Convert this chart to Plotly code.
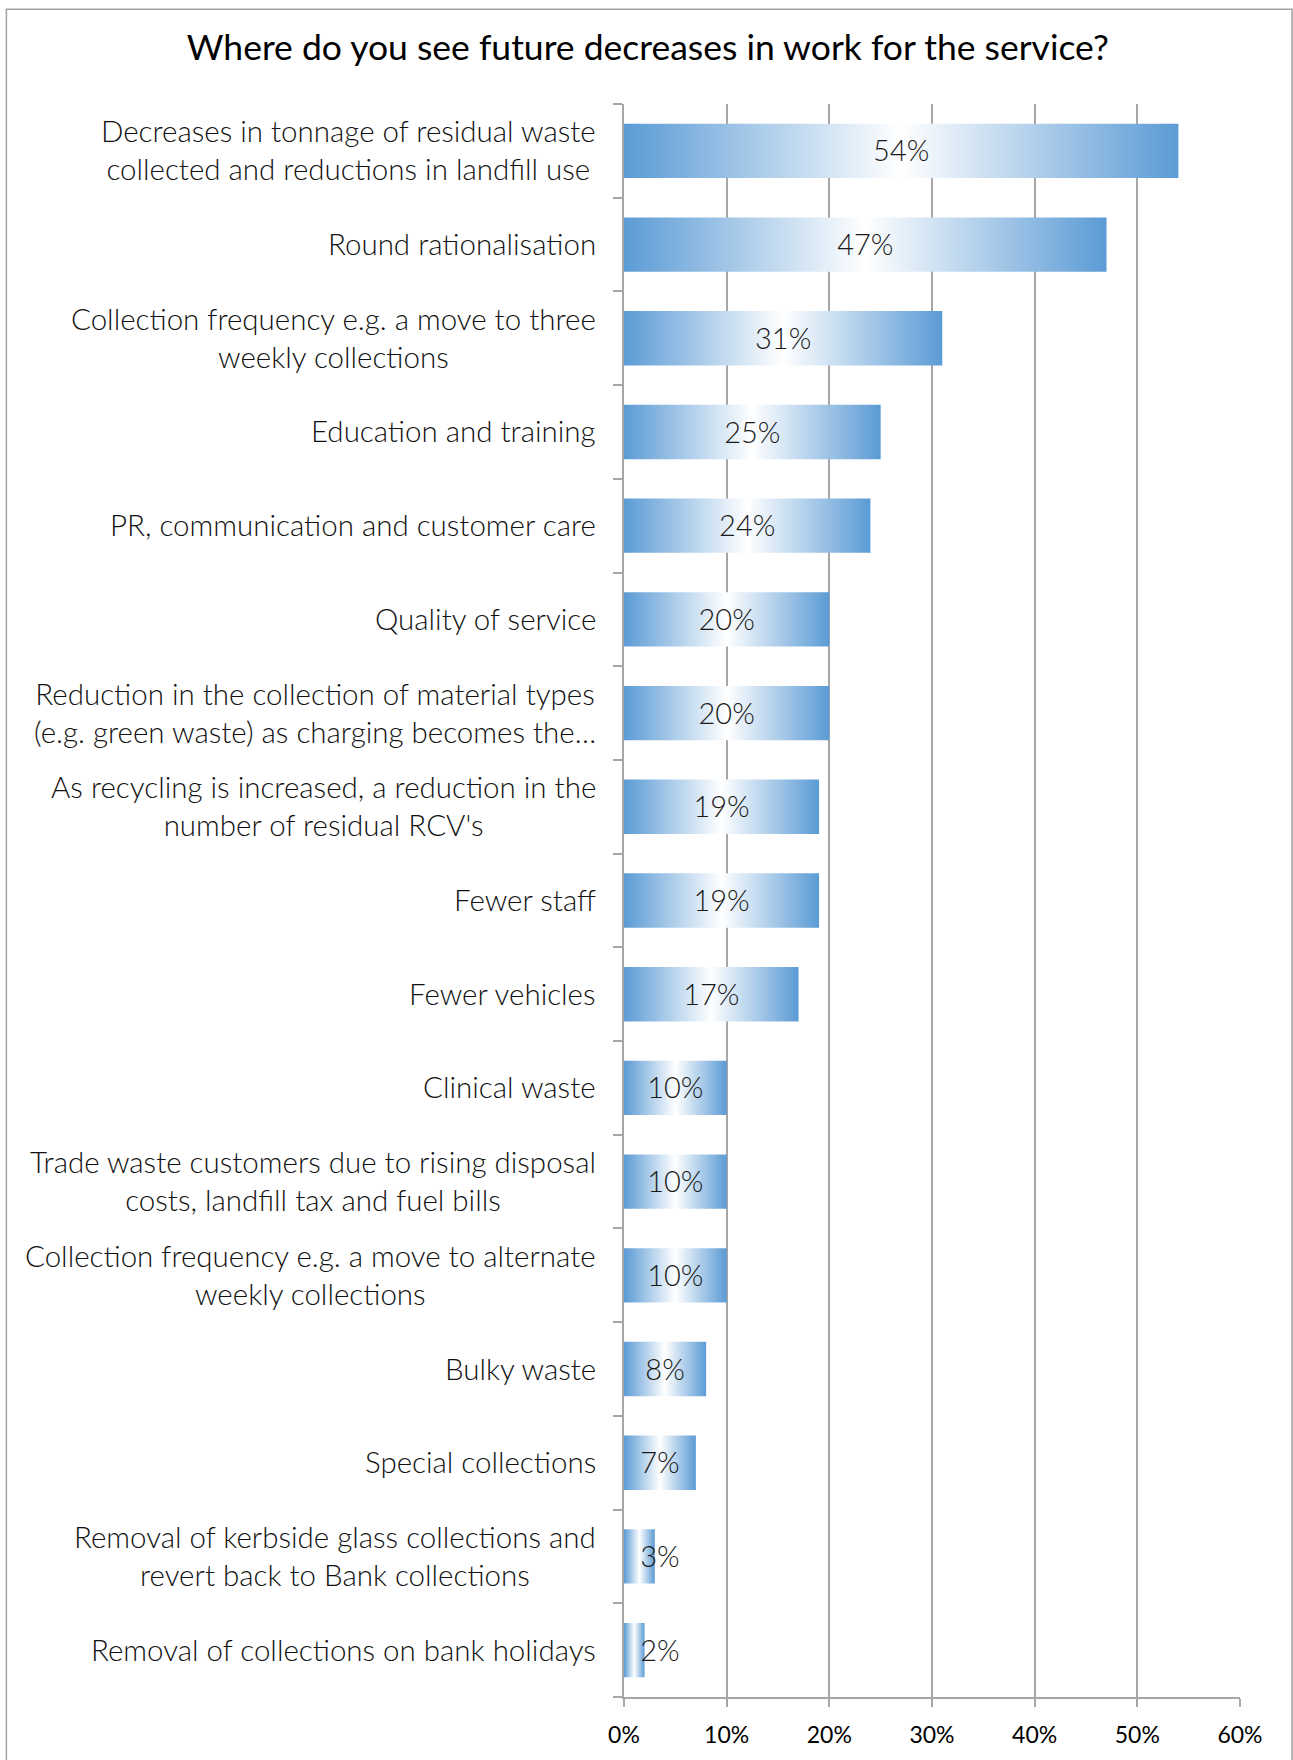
import plotly.graph_objects as go

# Survey answers, listed top to bottom as they appear on the chart
categories = [
    ["Decreases in tonnage of residual waste", "collected and reductions in landfill use"],
    ["Round rationalisation"],
    ["Collection frequency e.g. a move to three", "weekly collections"],
    ["Education and training"],
    ["PR, communication and customer care"],
    ["Quality of service"],
    ["Reduction in the collection of material types", "(e.g. green waste) as charging becomes the…"],
    ["As recycling is increased, a reduction in the", "number of residual RCV's"],
    ["Fewer staff"],
    ["Fewer vehicles"],
    ["Clinical waste"],
    ["Trade waste customers due to rising disposal", "costs, landfill tax and fuel bills"],
    ["Collection frequency e.g. a move to alternate", "weekly collections"],
    ["Bulky waste"],
    ["Special collections"],
    ["Removal of kerbside glass collections and", "revert back to Bank collections"],
    ["Removal of collections on bank holidays"],
]
percentages = [54, 47, 31, 25, 24, 20, 20, 19, 19, 17, 10, 10, 10, 8, 7, 3, 2]
x_ticks = [0, 10, 20, 30, 40, 50, 60]
x_tick_labels = [f"{t}%" for t in x_ticks]

TITLE = "Where do you see future decreases in work for the service?"

# Styling
FONT = "Lato"
BLUE = "#5b9bd5"
GRID = "#a6a6a6"
BAR_HALF = 0.29          # half bar thickness, in category units
LABEL_MIN_X = 3.5        # value labels never sit closer to the axis than this
LABEL_DY = 0.035         # nudges value labels onto the optical centre of the bar

fig = go.Figure()

n = len(categories)
for i, v in enumerate(percentages):
    # each bar is a filled rectangle so it can carry a blue-white-blue gradient
    fig.add_trace(go.Scatter(
        x=[0, v, v, 0, 0],
        y=[i - BAR_HALF, i - BAR_HALF, i + BAR_HALF, i + BAR_HALF, i - BAR_HALF],
        mode="none",
        fill="toself",
        fillgradient=dict(
            type="horizontal",
            colorscale=[[0, BLUE], [0.5, "#ffffff"], [1, BLUE]],
        ),
        hoverinfo="skip",
        showlegend=False,
    ))

# value labels in the middle of each bar
fig.add_trace(go.Scatter(
    x=[max(v / 2, LABEL_MIN_X) for v in percentages],
    y=[i + LABEL_DY for i in range(n)],
    mode="text",
    text=[f"{v}%" for v in percentages],
    textposition="middle center",
    textfont=dict(family=FONT, size=29, color="#1a1a1a", weight=300),
    hovertext=["<br>".join(c) + f": {v}%" for c, v in zip(categories, percentages)],
    hoverinfo="text",
    showlegend=False,
))

# category labels: right aligned to the axis, lines centred on each other
for i, lines in enumerate(categories):
    fig.add_annotation(
        x=0, xref="paper", y=i, yref="y",
        text="<br>".join(lines),
        showarrow=False,
        xanchor="right", yanchor="middle", align="center",
        xshift=-26, yshift=1,
        font=dict(family=FONT, size=29.5, color="#111111", weight=300),
    )

# outer frame of the chart
fig.add_shape(
    type="rect", xref="paper", yref="paper",
    x0=-1.0026, x1=1.0845, y0=-0.06, y1=1.0595,
    line=dict(color="#a0a0a0", width=1.5), fillcolor="rgba(0,0,0,0)",
    layer="below",
)

fig.update_layout(
    width=1293, height=1760,
    margin=dict(l=624, r=53, t=104, b=57),
    paper_bgcolor="white", plot_bgcolor="white",
    title=dict(
        text=TITLE, x=0.501, xanchor="center", y=0.9727, yanchor="middle",
        xref="container", yref="container",
        font=dict(family=FONT, size=35.5, color="#000000", weight=400),
    ),
    xaxis=dict(
        range=[0, 60], tickmode="array", tickvals=x_ticks, ticktext=x_tick_labels,
        showgrid=True, gridcolor=GRID, gridwidth=1.5,
        showline=True, linecolor=GRID, linewidth=1.5,
        ticks="outside", ticklen=8, tickcolor=GRID, tickwidth=1.5,
        ticklabelstandoff=9,
        tickfont=dict(family=FONT, size=23, color="#000000"),
        zeroline=False, fixedrange=True,
    ),
    yaxis=dict(
        range=[n - 0.5, -0.5],
        showticklabels=False, ticks="", showgrid=False, zeroline=False,
        showline=True, linecolor=GRID, linewidth=1.5,
        minor=dict(
            tickmode="array",
            tickvals=[k - 0.5 for k in range(n + 1)],
            ticks="outside", ticklen=9, tickcolor=GRID, tickwidth=1.5,
            showgrid=False,
        ),
        fixedrange=True,
    ),
)

fig.write_html("out.html")
